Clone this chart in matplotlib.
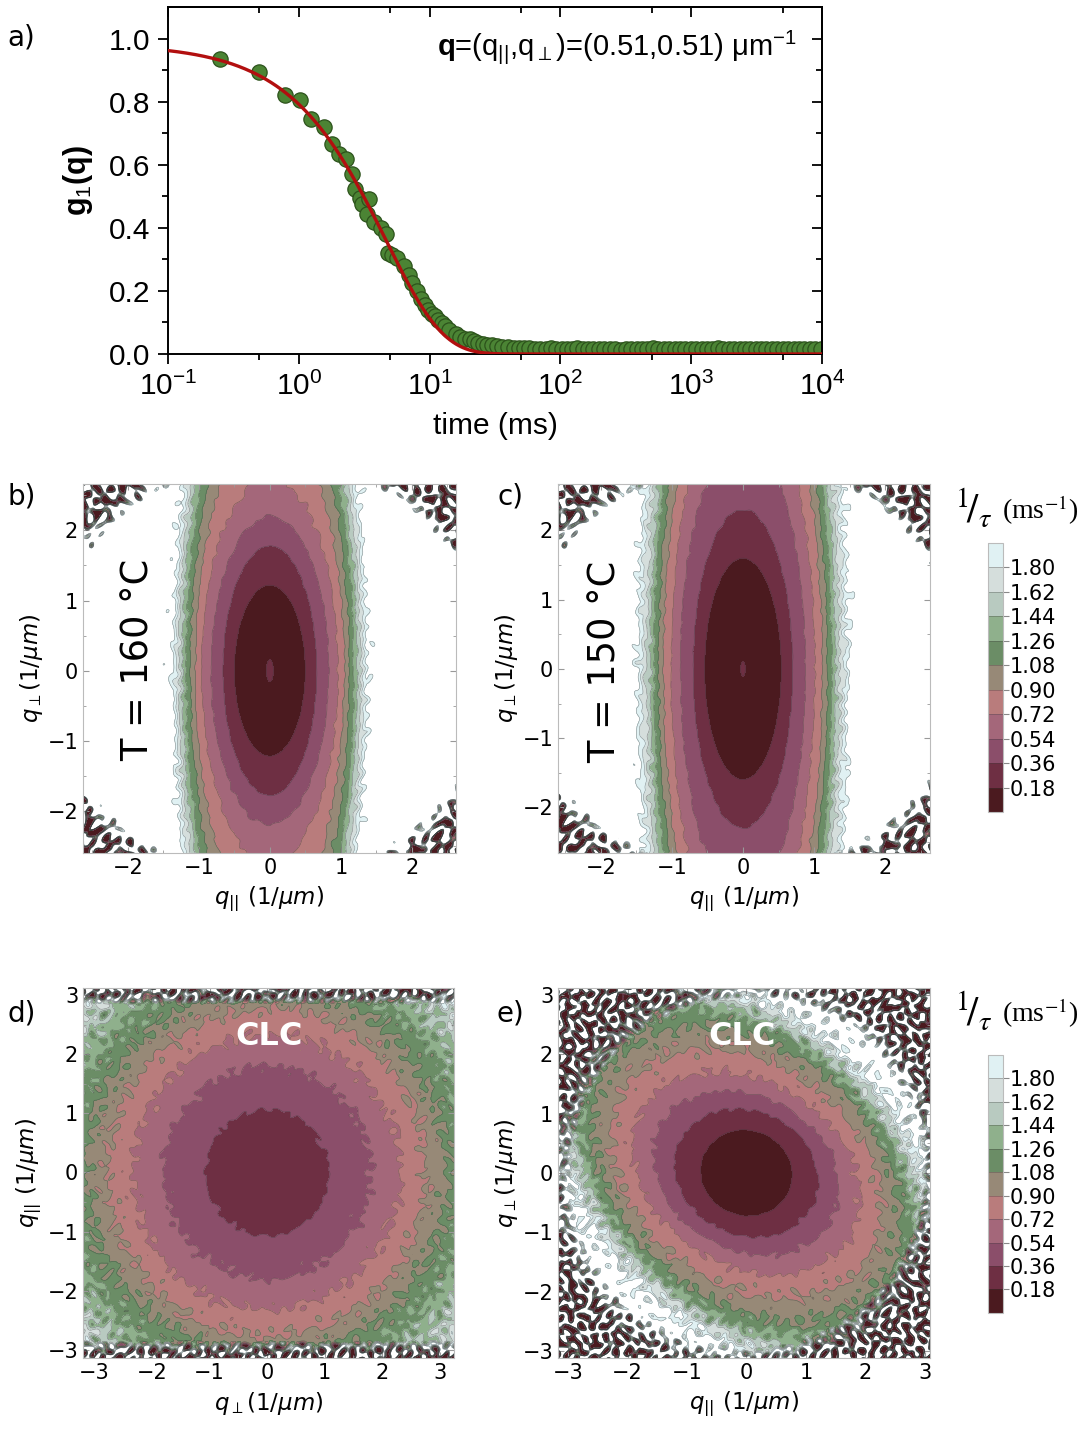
import numpy as np
import matplotlib
matplotlib.use('Agg')
import matplotlib.pyplot as plt
from matplotlib.ticker import FixedLocator, NullFormatter, FuncFormatter, MultipleLocator

plt.rcParams['font.family'] = ['DejaVu Sans']
plt.rcParams['mathtext.fontset'] = 'custom'
plt.rcParams['mathtext.rm'] = 'Liberation Sans'
plt.rcParams['mathtext.it'] = 'Liberation Sans:italic'
plt.rcParams['mathtext.bf'] = 'Liberation Sans:bold'

# ---- a) intensity correlation g1(q, t) ----
t_fast = [0.25, 0.50, 0.78, 1.02, 1.25, 1.55, 1.80, 2.04, 2.30, 2.55,
          2.68, 2.94, 3.03, 3.33, 3.43, 3.75, 4.24, 4.65, 4.80, 5.20,
          5.59, 6.32, 6.92, 7.36, 8.07, 8.59, 9.20, 9.71, 10.4, 10.97,
          11.6, 12.4, 13.2, 14.0, 15.8, 17.0, 18.5, 20.2, 21.8, 23.6,
          25.5, 27.5]
g_fast = [0.936, 0.894, 0.820, 0.804, 0.745, 0.719, 0.666, 0.634, 0.618, 0.571,
          0.523, 0.496, 0.475, 0.443, 0.491, 0.417, 0.401, 0.380, 0.321, 0.315,
          0.305, 0.279, 0.252, 0.226, 0.199, 0.173, 0.155, 0.141, 0.128, 0.120,
          0.108, 0.099, 0.088, 0.077, 0.062, 0.055, 0.049, 0.046, 0.040, 0.035,
          0.032, 0.030]
t_tail = [30, 33, 36, 40, 44, 48, 53, 58, 64, 70,
          77, 85, 93, 102, 112, 123, 135, 148, 163, 179,
          197, 217, 238, 262, 288, 317, 348, 383, 421, 463,
          509, 560, 616, 678, 745, 820, 902, 992, 1090, 1200,
          1320, 1450, 1600, 1760, 1930, 2120, 2340, 2570, 2830, 3110,
          3420, 3760, 4140, 4550, 5010, 5510, 6060, 6660, 7330, 8060,
          8870, 9750]
g_tail = [0.027, 0.025, 0.023, 0.021, 0.020, 0.019, 0.018, 0.018, 0.017, 0.017,
          0.016, 0.018, 0.016, 0.017, 0.015, 0.016, 0.018, 0.017, 0.016, 0.015,
          0.016, 0.017, 0.016, 0.015, 0.012, 0.015, 0.016, 0.017, 0.016, 0.017,
          0.018, 0.016, 0.017, 0.016, 0.017, 0.016, 0.017, 0.016, 0.017, 0.016,
          0.016, 0.017, 0.018, 0.017, 0.016, 0.017, 0.016, 0.017, 0.016, 0.016,
          0.017, 0.016, 0.017, 0.016, 0.017, 0.016, 0.017, 0.016, 0.016, 0.017,
          0.016, 0.017]
fit_amp = 0.983
fit_tau = 4.63  # ms

# ---- b)-e) relaxation rate maps 1/tau (ms^-1) ----
levels = [0.0, 0.18, 0.36, 0.54, 0.72, 0.90, 1.08, 1.26, 1.44, 1.62, 1.80, 1.98]
band_colors = ['#4b1a1f', '#6e2f43', '#8b4e6a', '#a4677a', '#b97c7c', '#978977',
               '#6b8d66', '#8fb08c', '#b8cac0', '#d5dedc', '#e0f1f3']

# contour values (first = value at q=0) and semi-axes of each iso-rate contour
vals_b = [0.02, 0.18, 0.36, 0.54, 0.72, 0.90, 1.08, 1.26, 1.44, 1.62, 1.80, 1.98]
sx_b = [0.50, 0.66, 0.83, 0.96, 1.05, 1.12, 1.18, 1.23, 1.28, 1.32, 1.36]
sy_b = [1.22, 1.78, 2.20, 2.75, 3.60, 4.20, 4.70, 5.00, 5.30, 5.60, 6.00]
ang_b = [0] * 11

vals_c = [0.02, 0.18, 0.36, 0.54, 0.72, 0.90, 1.08, 1.26, 1.44, 1.62, 1.80, 1.98]
sx_c = [0.54, 0.70, 0.88, 1.01, 1.12, 1.19, 1.25, 1.30, 1.36, 1.42, 1.48]
sy_c = [1.60, 2.30, 3.30, 4.20, 4.80, 5.40, 6.00, 6.40, 6.80, 7.20, 7.60]
ang_c = [0] * 11

vals_d = [0.26, 0.36, 0.54, 0.72, 0.90, 1.08, 1.26, 1.44, 1.62, 1.80, 1.98]
sx_d = [1.08, 1.83, 2.34, 2.78, 3.15, 3.55, 3.90, 4.20, 4.50, 4.80]
sy_d = [1.08, 1.83, 2.34, 2.78, 3.15, 3.55, 3.90, 4.20, 4.50, 4.80]
ang_d = [0] * 10

vals_e = [0.01, 0.18, 0.36, 0.54, 0.72, 0.90, 1.08, 1.26, 1.44, 1.62, 1.80, 1.98]
sx_e = [0.78, 1.25, 1.65, 2.05, 2.50, 2.95, 3.20, 3.40, 3.55, 3.70, 3.85]
sy_e = [0.72, 1.05, 1.30, 1.55, 1.85, 2.10, 2.25, 2.35, 2.45, 2.52, 2.60]
ang_e = [-20, -25, -30, -33, -38, -42, -44, -45, -45, -45, -45]

# texture used for the noisy high-q region (fixed, quasi-periodic)
tex_angles = [3, 29, 57, 83, 112, 139, 166]
tex_scale = [1.00, 1.13, 0.91, 1.07, 0.95, 1.19, 0.87]
tex_phase = [0.4, 2.1, 4.5, 1.3, 3.7, 5.6, 0.9]


def texture(X, Y, k0):
    Xw = X + 0.06 * np.sin(7.3 * Y + 1.1)
    Yw = Y + 0.06 * np.sin(6.7 * X + 0.4)
    T = np.zeros_like(X)
    for a, s, p in zip(tex_angles, tex_scale, tex_phase):
        a = np.deg2rad(a)
        T += np.sin(k0 * s * (Xw * np.cos(a) + Yw * np.sin(a)) + p)
        T += 0.45 * np.sin(0.61 * k0 * s * (Xw * np.cos(a + 0.26) + Yw * np.sin(a + 0.26)) + 2 * p)
    return T / np.sqrt(len(tex_angles) * (1 + 0.45 ** 2) / 2)


def rate_map(X, Y, vals, sx, sy, angs):
    S = []
    for a, b, th in zip(sx, sy, angs):
        th = np.deg2rad(th)
        u = X * np.cos(th) + Y * np.sin(th)
        w = -X * np.sin(th) + Y * np.cos(th)
        S.append(np.sqrt((u / a) ** 2 + (w / b) ** 2))
    V = vals[-1] + 3.0 * (S[-1] - 1.0) + 0.01
    with np.errstate(divide='ignore', invalid='ignore'):
        for k in range(len(S) - 1, 0, -1):
            m = (S[k] < 1) & (S[k - 1] >= 1)
            t = (S[k - 1] - 1) / (S[k - 1] - S[k])
            V = np.where(m, vals[k] + t * (vals[k + 1] - vals[k]), V)
    V = np.where(S[0] < 1, vals[0] + (vals[1] - vals[0]) * S[0] ** 2, V)
    return V


def make_field(lim, vals, sx, sy, angs, jitter, noise_r, noise_w, strip=False, bump=0.0, k0=38.0):
    q = np.linspace(-lim, lim, 600)
    X, Y = np.meshgrid(q, q)
    V = rate_map(X, Y, vals, sx, sy, angs)
    T = texture(X, Y, k0)
    Tf = texture(Y * 1.1 + 0.37, X * 1.1 - 0.21, 27.0)
    V = V * (1 + jitter * np.clip(V, 0, 2.2) * Tf)
    if bump:
        V = V + bump * np.exp(-(X / 0.07) ** 2 - (Y / 0.22) ** 2)
    R = np.abs(Y) if strip else np.hypot(X, Y)
    w = np.clip((R - noise_r) / noise_w, 0, 1)
    V = (1 - w) * V + w * (1.25 + 2.6 * T)
    return X, Y, np.clip(V, 0.001, None)


def rate_panel(ax, X, Y, V, xlim, ylim, xlabel, ylabel):
    cf = ax.contourf(X, Y, V, levels=levels, colors=band_colors)
    cl = ax.contour(X, Y, V, levels=levels[1:], colors='#3a3a3a', linewidths=0.4, alpha=0.55)
    ax.set_xlim(xlim)
    ax.set_ylim(ylim)
    ax.xaxis.set_major_locator(MultipleLocator(1))
    ax.yaxis.set_major_locator(MultipleLocator(1))
    ax.xaxis.set_minor_locator(MultipleLocator(0.5))
    ax.yaxis.set_minor_locator(MultipleLocator(0.5))
    ax.tick_params(which='both', direction='in', top=True, right=True, color='#999999', labelsize=15)
    ax.tick_params(which='major', length=4)
    ax.tick_params(which='minor', length=2)
    for s in ax.spines.values():
        s.set_color('#bbbbbb')
        s.set_linewidth(0.8)
    ax.set_xlabel(xlabel, fontsize=16.5, math_fontfamily='dejavusans', labelpad=5)
    ax.set_ylabel(ylabel, fontsize=16.5, math_fontfamily='dejavusans', labelpad=2)
    return cf, cl


def rate_colorbar(fig, rect, cf, cl, head_y):
    cax = fig.add_axes(rect)
    cb = fig.colorbar(cf, cax=cax, ticks=levels[1:-1])
    cb.add_lines(cl)
    cb.ax.set_yticklabels(['%.2f' % v for v in levels[1:-1]])
    cb.ax.tick_params(labelsize=15, length=4, color='#888888', pad=1)
    cb.outline.set_edgecolor('#bbbbbb')
    cb.outline.set_linewidth(0.8)
    fig.text(0.892, head_y, r'$^{1}\!/_{\tau}$', fontsize=29, math_fontfamily='stix',
             ha='center', va='center')
    fig.text(0.918, head_y, '(ms$^{-1}$)', fontsize=20, family='Liberation Serif',
             math_fontfamily='stix', ha='left', va='center')


fig = plt.figure(figsize=(10.92, 14.39), dpi=100)

# ---- panel a ----
ax = fig.add_axes([0.1538, 0.754, 0.599, 0.2411])
t_all = t_fast + t_tail
g_all = g_fast + g_tail
ax.plot(t_all, g_all, 'o', ms=11, mfc='#4b8434', mec='#2c521b', mew=0.9, zorder=2)
t_fit = np.logspace(-1, 4, 400)
ax.plot(t_fit, fit_amp * np.exp(-t_fit / fit_tau), color='#b20f0f', lw=2.4, zorder=3)
ax.set_xscale('log')
ax.set_xlim(0.1, 1e4)
ax.set_ylim(0, 1.1)
ax.xaxis.set_major_locator(FixedLocator([0.1, 1, 10, 100, 1000, 10000]))
ax.xaxis.set_minor_locator(FixedLocator([0.5, 5, 50, 500, 5000]))
ax.xaxis.set_major_formatter(FuncFormatter(lambda v, p: r'10$^{%d}$' % round(np.log10(v))))
ax.xaxis.set_minor_formatter(NullFormatter())
ax.yaxis.set_major_locator(FixedLocator([0, 0.2, 0.4, 0.6, 0.8, 1.0]))
ax.yaxis.set_minor_locator(FixedLocator([0.1, 0.3, 0.5, 0.7, 0.9]))
ax.yaxis.set_major_formatter(FuncFormatter(lambda v, p: '%.1f' % v))
ax.tick_params(which='both', direction='out', width=1.3, labelsize=21.5,
               labelfontfamily='Liberation Sans', pad=6)
ax.tick_params(which='major', length=7)
ax.tick_params(which='minor', length=4)
for s in ax.spines.values():
    s.set_linewidth(1.4)
secx = ax.secondary_xaxis('top')
secx.xaxis.set_major_locator(FixedLocator([0.1, 1, 10, 100, 1000, 10000]))
secx.xaxis.set_minor_locator(FixedLocator([0.5, 5, 50, 500, 5000]))
secx.tick_params(which='both', direction='in', labeltop=False, width=1.3)
secx.tick_params(which='major', length=7)
secx.tick_params(which='minor', length=4)
secx.spines['top'].set_linewidth(1.4)
secy = ax.secondary_yaxis('right')
secy.yaxis.set_major_locator(FixedLocator([0, 0.2, 0.4, 0.6, 0.8, 1.0]))
secy.yaxis.set_minor_locator(FixedLocator([0.1, 0.3, 0.5, 0.7, 0.9]))
secy.tick_params(which='both', direction='in', labelright=False, width=1.3)
secy.tick_params(which='major', length=7)
secy.tick_params(which='minor', length=4)
secy.spines['right'].set_linewidth(1.4)
ax.set_xlabel('time (ms)', fontsize=21.5, family='Liberation Sans', labelpad=8)
ax.set_ylabel(r'g$_1$($\mathbf{q}$)', fontsize=22, family='Liberation Sans',
              fontweight='bold', labelpad=10)
ax.text(0.962, 0.885, r'$\mathbf{q}$=(q$_{||}$,q$_{\perp}$)=(0.51,0.51) μm$^{-1}$',
        transform=ax.transAxes, ha='right', va='center', fontsize=21, family='Liberation Sans')

# ---- panel b ----
lbl_par = r'$q_{||}$ (1/$\mu m$)'
lbl_perp = r'$q_{\perp}$(1/$\mu m$)'

ax_b = fig.add_axes([0.076, 0.4072, 0.3416, 0.2564])
X, Y, V = make_field(2.8, vals_b, sx_b, sy_b, ang_b, 0.02, 2.95, 0.35, bump=0.26)
cf_b, cl_b = rate_panel(ax_b, X, Y, V, (-2.63, 2.62), (-2.6, 2.66), lbl_par, lbl_perp)
ax_b.text(-1.86, 0.15, 'T = 160 °C', rotation=90, fontsize=26.5, ha='center', va='center')

# ---- panel c ----
ax_c = fig.add_axes([0.511, 0.4072, 0.3407, 0.2564])
X, Y, V = make_field(2.8, vals_c, sx_c, sy_c, ang_c, 0.02, 2.95, 0.35, bump=0.2)
cf_c, cl_c = rate_panel(ax_c, X, Y, V, (-2.6, 2.63), (-2.66, 2.67), lbl_par, lbl_perp)
ax_c.text(-1.94, 0.1, 'T = 150 °C', rotation=90, fontsize=26.5, ha='center', va='center')
rate_colorbar(fig, [0.9048, 0.4357, 0.0137, 0.187], cf_c, cl_c, 0.6456)

# ---- panel d ----
ax_d = fig.add_axes([0.076, 0.0563, 0.3397, 0.2571])
X, Y, V = make_field(3.4, vals_d, sx_d, sy_d, ang_d, 0.05, 2.85, 0.35, strip=True)
rate_panel(ax_d, X, Y, V, (-3.2, 3.25), (-3.14, 3.12), lbl_perp, lbl_par)
ax_d.text(0.03, 2.3, 'CLC', color='white', fontsize=23, fontweight='bold', ha='center', va='center')

# ---- panel e ----
ax_e = fig.add_axes([0.511, 0.0563, 0.3407, 0.2571])
X, Y, V = make_field(3.4, vals_e, sx_e, sy_e, ang_e, 0.05, 2.95, 0.55)
cf_e, cl_e = rate_panel(ax_e, X, Y, V, (-3.17, 3.09), (-3.12, 3.12), lbl_par, lbl_perp)
ax_e.text(-0.07, 2.31, 'CLC', color='white', fontsize=23, fontweight='bold', ha='center', va='center')
rate_colorbar(fig, [0.9048, 0.0876, 0.0137, 0.1793], cf_e, cl_e, 0.296)

# panel letters
for x, y, s in [(0.007, 0.974, 'a)'), (0.007, 0.655, 'b)'), (0.456, 0.655, 'c)'),
                (0.007, 0.296, 'd)'), (0.455, 0.296, 'e)')]:
    fig.text(x, y, s, fontsize=20, ha='left', va='center')

fig.savefig('out.png', dpi=100)
